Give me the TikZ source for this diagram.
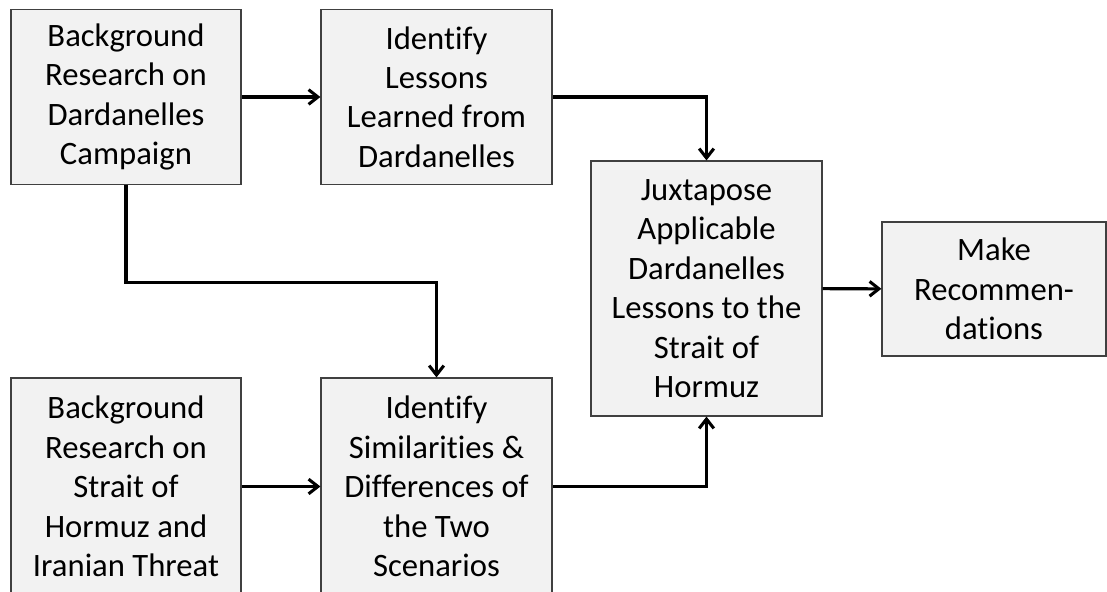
\documentclass[tikz,border=0pt]{standalone}
\usepackage{fontspec}
\setmainfont{Carlito}[Ligatures={NoCommon}]
\usepackage{tikz}
\usetikzlibrary{arrows.meta}

\definecolor{boxfill}{HTML}{F2F2F2}
\definecolor{boxline}{HTML}{404040}

\begin{document}
\begin{tikzpicture}[x=.75pt, y=-.75pt,
    box/.style={draw=boxline, line width=.9pt, fill=boxfill, align=center, inner sep=0pt,
      font=\fontsize{24.5pt}{29.6pt}\selectfont},
    arr/.style={-{Straight Barb[length=7pt, width=11pt]}, line width=2.3pt}]
    \useasboundingbox (0, 0) rectangle (1107, 592);
    \clip (0, 0) rectangle (1107, 592);

    \node [box, minimum width=172.5pt, minimum height=131pt] (bgd) at (126, 97) {Background\\Research on\\Dardanelles\\Campaign};
    \node [box, minimum width=173.25pt, minimum height=131pt] (lsn) at (436.5, 97) {Identify\\Lessons\\Learned from\\Dardanelles};
    \node [box, minimum width=173.25pt, minimum height=191.25pt] (jux) at (706.5, 288.5) {Juxtapose\\Applicable\\Dardanelles\\Lessons to the\\Strait of\\Hormuz};
    \node [box, minimum width=168pt, minimum height=100.5pt] (rec) at (994, 289) {Make\\Recommen-\\dations};
    \node [box, minimum width=172.5pt, minimum height=162.75pt] (bgh) at (126, 486.5) {Background\\Research on\\Strait of\\Hormuz and\\Iranian Threat};
    \node [box, minimum width=173.25pt, minimum height=162.75pt] (sim) at (436.5, 486.5) {Identify\\Similarities \&\\Differences of\\the Two\\Scenarios};

    \draw [arr] (bgd) -- (lsn);
    \draw [arr] (lsn.east) -| (jux.north);
    \draw [arr] (bgd.south) -- ++(0, 98) -| (sim.north);
    \draw [arr] (bgh) -- (sim);
    \draw [arr] (sim.east) -| (jux.south);
    \draw [arr] (jux) -- (rec);
  \end{tikzpicture}
\end{document}
